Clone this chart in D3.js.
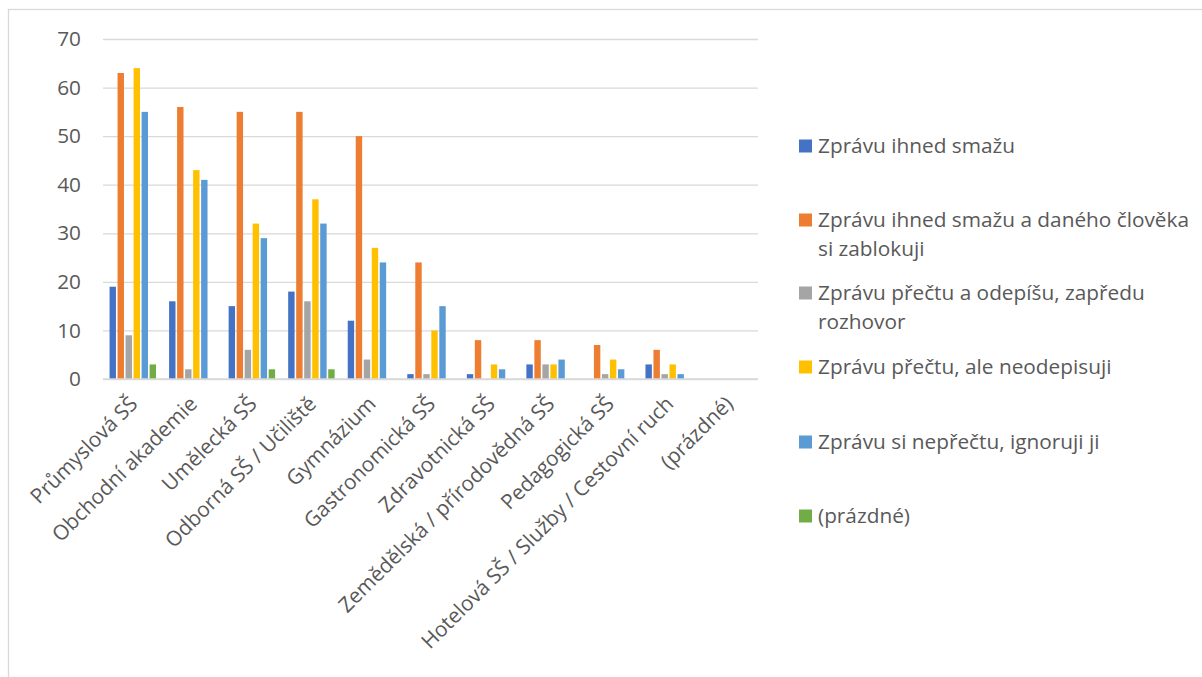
<!DOCTYPE html>
<html>
<head>
<meta charset="utf-8">
<script src="https://cdn.jsdelivr.net/npm/d3@7"></script>
<style>
  html, body { margin: 0; padding: 0; background: #fff; }
  svg { display: block; }
  text { font-family: "Open Sans", Lato, sans-serif; fill: #595959; }
</style>
</head>
<body>
<svg id="chart" width="1202" height="677"></svg>
<script>
const categories = [
  "Průmyslová SŠ", "Obchodní akademie", "Umělecká SŠ", "Odborná SŠ / Učiliště",
  "Gymnázium", "Gastronomická SŠ", "Zdravotnická SŠ", "Zemědělská / přírodovědná SŠ",
  "Pedagogická SŠ", "Hotelová SŠ / Služby / Cestovní ruch", "(prázdné)"
];
const seriesNames = [
  "Zprávu ihned smažu",
  "Zprávu ihned smažu a daného člověka si zablokuji",
  "Zprávu přečtu a odepíšu, zapředu rozhovor",
  "Zprávu přečtu, ale neodepisuji",
  "Zprávu si nepřečtu, ignoruji ji",
  "(prázdné)"
];
// legend text as it wraps in the reference
const legendLines = [
  ["Zprávu ihned smažu"],
  ["Zprávu ihned smažu a daného člověka", "si zablokuji"],
  ["Zprávu přečtu a odepíšu, zapředu", "rozhovor"],
  ["Zprávu přečtu, ale neodepisuji"],
  ["Zprávu si nepřečtu, ignoruji ji"],
  ["(prázdné)"]
];
const colors = ["#4472C4", "#ED7D31", "#A5A5A5", "#FFC000", "#5B9BD5", "#70AD47"];
// values per series, in category order
const s1 = [19, 16, 15, 18, 12, 1, 1, 3, 0, 3, 0];
const s2 = [63, 56, 55, 55, 50, 24, 8, 8, 7, 6, 0];
const s3 = [9, 2, 6, 16, 4, 1, 0, 3, 1, 1, 0];
const s4 = [64, 43, 32, 37, 27, 10, 3, 3, 4, 3, 0];
const s5 = [55, 41, 29, 32, 24, 15, 2, 4, 2, 1, 0];
const s6 = [3, 0, 2, 2, 0, 0, 0, 0, 0, 0, 0];
const seriesValues = [s1, s2, s3, s4, s5, s6];
const yTicks = [0, 10, 20, 30, 40, 50, 60, 70];

const svg = d3.select("#chart");
const FONT = 20.8;
const FAMILY = "'Open Sans', Lato, sans-serif";

// outer chart border
svg.append("rect").attr("x", 8.5).attr("y", 9.5).attr("width", 1300).attr("height", 800)
  .attr("fill", "none").attr("stroke", "#d9d9d9").attr("stroke-width", 1.3);

const x0 = d3.scaleBand().domain(categories).range([103, 758])
  .paddingInner(0.193).paddingOuter(0.0965);
const x1 = d3.scaleBand().domain(d3.range(seriesNames.length)).range([0, x0.bandwidth()])
  .paddingInner(0.2).paddingOuter(0.1);
const y = d3.scaleLinear().domain([0, 70]).range([379, 39]);

// gridlines + value labels
const yAxis = d3.axisLeft(y).tickValues(yTicks).tickSize(-(758 - 103)).tickPadding(22);
const gy = svg.append("g").attr("transform", "translate(103,0)").call(yAxis);
gy.select(".domain").remove();
gy.selectAll(".tick line").attr("stroke", "#d9d9d9").attr("stroke-width", 1.3);
gy.selectAll(".tick text").attr("font-size", FONT).attr("fill", "#595959")
  .style("font-family", FAMILY);

// bars
const groups = svg.append("g").selectAll("g").data(categories).join("g")
  .attr("transform", d => `translate(${x0(d)},0)`);
groups.selectAll("rect")
  .data((d, ci) => seriesValues.map((vals, si) => ({ si, v: vals[ci] })))
  .join("rect")
  .filter(d => d.v > 0)
  .attr("x", d => x1(d.si))
  .attr("width", x1.bandwidth())
  .attr("y", d => y(d.v))
  .attr("height", d => y(0) - y(d.v))
  .attr("fill", d => colors[d.si]);

// category axis
const xAxis = d3.axisBottom(x0).tickSize(0).tickPadding(0);
const gx = svg.append("g").attr("transform", "translate(0,379)").call(xAxis);
gx.select(".domain").attr("stroke", "#d9d9d9").attr("stroke-width", 1.3)
  .attr("d", "M103,0H758");
gx.selectAll(".tick text")
  .attr("font-size", FONT)
  .attr("fill", "#595959")
  .style("font-family", FAMILY)
  .attr("text-anchor", "end")
  .attr("dy", "0.35em")
  .attr("transform", "translate(1,21) rotate(-45)");

// legend
const legend = svg.append("g");
const legendY = [146, 220, 293, 367, 442, 516];
legendLines.forEach((lines, i) => {
  const g = legend.append("g").attr("transform", `translate(799,${legendY[i]})`);
  g.append("rect").attr("x", 0).attr("y", -6.5).attr("width", 13).attr("height", 13)
    .attr("fill", colors[i]);
  const t = g.append("text").attr("font-size", FONT).style("font-family", FAMILY);
  lines.forEach((ln, k) => {
    t.append("tspan").attr("x", 19).attr("y", k * 29).attr("dy", "0.35em").text(ln);
  });
});
</script>
</body>
</html>
